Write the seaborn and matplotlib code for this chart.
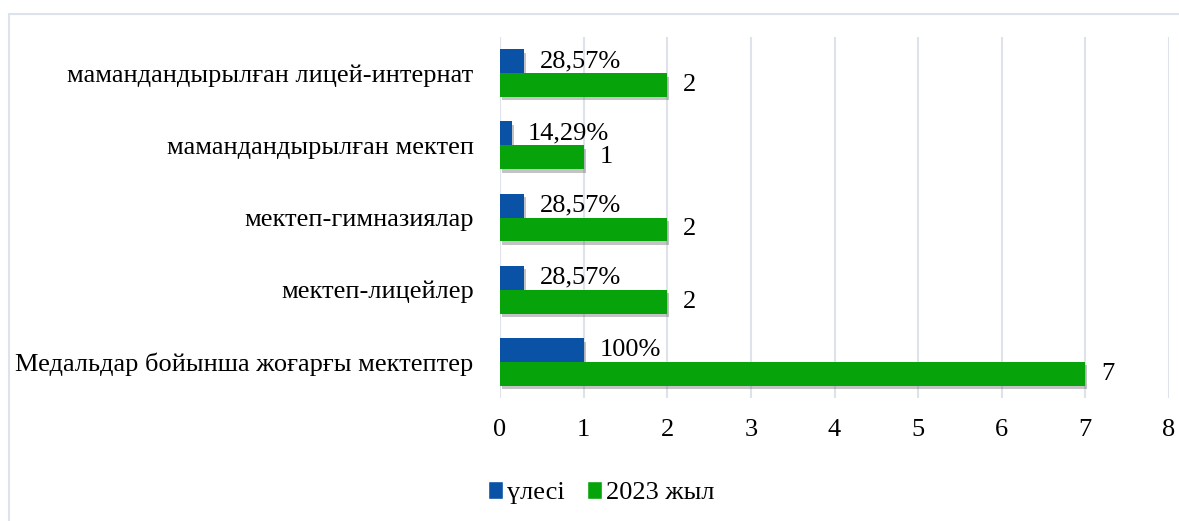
import matplotlib
matplotlib.use("Agg")
import matplotlib.pyplot as plt
import matplotlib.patheffects as pe
from matplotlib.patches import Patch, Rectangle
import pandas as pd
import seaborn as sns

categories = [
    "мамандандырылған лицей-интернат",
    "мамандандырылған мектеп",
    "мектеп-гимназиялар",
    "мектеп-лицейлер",
    "Медальдар бойынша жоғарғы мектептер",
]
share_values = [0.2857, 0.1429, 0.2857, 0.2857, 1.0]
share_labels = ["28,57%", "14,29%", "28,57%", "28,57%", "100%"]
count_values = [2, 1, 2, 2, 7]
count_labels = ["2", "1", "2", "2", "7"]
series_names = ["үлесі", "2023 жыл"]
x_ticks = [0, 1, 2, 3, 4, 5, 6, 7, 8]

blue = "#0A52A6"
green = "#06A30A"
grid_col = "#DEE3EB"
fs = 19

sns.set_style("white")
plt.rcParams["font.family"] = ["Liberation Serif", "DejaVu Serif"]
plt.rcParams["font.size"] = fs
plt.rcParams["text.color"] = "black"
plt.rcParams["xtick.color"] = "black"
plt.rcParams["ytick.color"] = "black"

df = pd.DataFrame({
    "category": categories * 2,
    "value": share_values + count_values,
    "series": [series_names[0]] * len(categories) + [series_names[1]] * len(categories),
})

fig = plt.figure(figsize=(11.79, 5.21), dpi=100)
ax = fig.add_axes([500 / 1179, 1 - 398 / 521, 669 / 1179, 361 / 521])

sns.barplot(data=df, y="category", x="value", hue="series", orient="h",
            order=categories, hue_order=series_names,
            palette=[blue, green], width=0.66, dodge=True, ax=ax,
            legend=False, saturation=1)

# soft drop shadow under the bars
shadow = [pe.SimplePatchShadow(offset=(1.5, -2.5), alpha=0.35, shadow_rgbFace="#555555"),
          pe.Normal()]
for cont in ax.containers:
    for bar in cont:
        bar.set_path_effects(shadow)
        bar.set_edgecolor("none")

ax.bar_label(ax.containers[0], labels=share_labels, padding=11.5, fontsize=fs, color="black")
ax.bar_label(ax.containers[1], labels=count_labels, padding=11.5, fontsize=fs, color="black")

ax.set_xlim(0, 8)
ax.set_xticks(x_ticks)
ax.set_xlabel("")
ax.set_ylabel("")
ax.grid(axis="x", color=grid_col, linewidth=1.5)
ax.set_axisbelow(True)
for s in ax.spines.values():
    s.set_visible(False)
ax.tick_params(axis="x", length=0, pad=15, labelsize=fs, labelcolor="black")
ax.tick_params(axis="y", length=0, pad=19, labelsize=fs, labelcolor="black")

handles = [Patch(facecolor=blue), Patch(facecolor=green)]
fig.legend(handles, series_names, loc="center", bbox_to_anchor=(0.51, 0.055),
           ncol=2, frameon=False, handlelength=0.55, handleheight=0.7,
           handletextpad=0.15, columnspacing=0.85, fontsize=fs)

fig.patches.append(Rectangle((8.5 / 1179, -0.05), 1.2, 1 - 14.5 / 521 + 0.05,
                             transform=fig.transFigure, fill=False,
                             edgecolor="#DCE3EC", linewidth=1.5))

fig.savefig("out.png", dpi=100)
